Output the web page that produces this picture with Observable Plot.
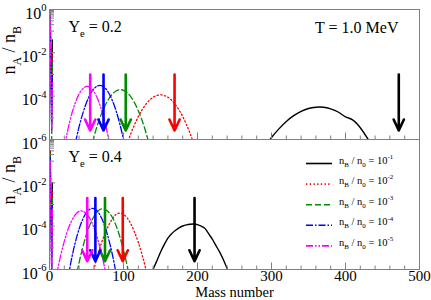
<!DOCTYPE html>
<html><head><meta charset="utf-8">
<script src="https://cdn.jsdelivr.net/npm/d3@7"></script>
<script src="https://cdn.jsdelivr.net/npm/@observablehq/plot@0.6"></script>
<style>
body{margin:0;background:#fff;}
#chart{position:relative;width:431px;height:300px;}
#chart svg{background:transparent;}
#chart text{font-family:"Liberation Serif","Times New Roman",serif !important;}
</style></head><body><div id="chart"></div>
<script>
// ---------- data ----------
const panels = ["0.2", "0.4"];
const panelLabels = ["Y_{e} = 0.2", "Y_{e} = 0.4"];
const tempLabel = "T = 1.0 MeV";
const yTitle = "n_{A} / n_{B}";
const xTitle = "Mass number";
const densityLabels = ["n_{B} / n_{0} = 10^{-1}", "n_{B} / n_{0} = 10^{-2}", "n_{B} / n_{0} = 10^{-3}", "n_{B} / n_{0} = 10^{-4}", "n_{B} / n_{0} = 10^{-5}"];
const seriesColors = ["#000000", "#ff0000", "#008b00", "#0000ff", "#ff00ff"];
const seriesDash = ["none", "1.3,2.4", "6,3", "7,2,1.5,2", "7,2,1.5,2,1.5,2"];

const xTickValues = [0, 100, 200, 300, 400, 500];
const xTickLabels = ["0", "100", "200", "300", "400", "500"];
const xMinorValues = [20,40,60,80,120,140,160,180,220,240,260,280,320,340,360,380,420,440,460,480];
const yTickValues = [1e0, 1e-2, 1e-4, 1e-6];
const yTickLabels = ["10^{0}", "10^{-2}", "10^{-4}", "10^{-6}"];
const yOddDecades = [1e-1, 1e-3, 1e-5];
const yMinorValues = [0.2,0.3,0.4,0.5,0.6,0.7,0.8,0.9];

// Ye = 0.2 (top panel)
const topMass1 = [290,300,310,320,330,340,350,360,370,380,390,400,410,420,430,440];
const topRatio1 = [4.1e-7,1.23e-6,3.1e-6,6.8e-6,1.26e-5,2.0e-5,2.7e-5,3.1e-5,3.1e-5,2.6e-5,1.86e-5,1.12e-5,7.9e-6,3.5e-6,1.1e-6,3.2e-7];
const topMass2 = [100,105,110,115,120,125,130,135,140,145,150,155,160,165,170,175,180,185,190,195,200];
const topRatio2 = [1.9e-7,6.3e-7,1.9e-6,4.9e-6,1.15e-5,2.3e-5,4.1e-5,6.5e-5,8.9e-5,1.07e-4,1.15e-4,1.07e-4,8.9e-5,6.5e-5,4.1e-5,2.3e-5,1.15e-5,4.9e-6,1.9e-6,6.3e-7,1.9e-7];
const topMass3 = [55,60,65,70,75,80,85,90,95,100,105,110,115,120,125,130,135];
const topRatio3 = [3.0e-7,1.3e-6,4.9e-6,1.45e-5,3.6e-5,7.4e-5,1.26e-4,1.74e-4,2.0e-4,1.86e-4,1.45e-4,9.3e-5,4.9e-5,2.1e-5,7.8e-6,2.3e-6,5.5e-7];
const topMass4 = [35,40,45,50,55,60,65,70,75,80,85,90,95,100,105];
const topRatio4 = [6.9e-7,3.9e-6,1.6e-5,5.1e-5,1.23e-4,2.2e-4,3.0e-4,3.1e-4,2.4e-4,1.4e-4,6.2e-5,2.1e-5,5.2e-6,1.0e-6,1.4e-7];
const topMass5 = [20,25,30,35,40,45,50,55,60,65,70,75,80,85];
const topRatio5 = [4.5e-7,3.0e-6,1.5e-5,5.1e-5,1.26e-4,2.2e-4,2.8e-4,2.5e-4,1.6e-4,7.6e-5,2.5e-5,5.9e-6,1.0e-6,1.2e-7];

// Ye = 0.4 (bottom panel)
const botMass1 = [135,140,145,150,155,160,165,170,175,180,185,190,195,200,205,210,215,220,225,230,235,240,245];
const botRatio1 = [4e-7,1e-6,2.5e-6,6.3e-6,1.4e-5,2.8e-5,4.5e-5,6.3e-5,8.3e-5,1.02e-4,1.15e-4,1.23e-4,1.26e-4,1.17e-4,1.0e-4,7.9e-5,4.5e-5,2.5e-5,1.26e-5,6.3e-6,2.8e-6,1.1e-6,4e-7];
const botMass2 = [55,60,65,70,75,80,85,90,95,100,105,110,115,120,125,130,135];
const botRatio2 = [2e-7,1e-6,4.5e-6,1.6e-5,4.5e-5,1.1e-4,2.2e-4,3.5e-4,4.0e-4,3.5e-4,2.4e-4,1.26e-4,5.2e-5,1.8e-5,5e-6,1.1e-6,2e-7];
const botMass3 = [35,40,45,50,55,60,65,70,75,80,85,90,95,100,105,110];
const botRatio3 = [3.0e-7,2.1e-6,1.07e-5,4.3e-5,1.26e-4,2.8e-4,4.8e-4,6.2e-4,6.0e-4,4.4e-4,2.5e-4,1.05e-4,3.3e-5,7.9e-6,1.45e-6,2e-7];
const botMass4 = [25,30,35,40,45,50,55,60,65,70,75,80,85,90,95];
const botRatio4 = [4.2e-7,3.3e-6,1.86e-5,7.4e-5,2.1e-4,4.3e-4,6.2e-4,6.5e-4,4.8e-4,2.5e-4,9.3e-5,2.5e-5,4.8e-6,6.5e-7,6e-8];
const botMass5 = [5,10,15,20,25,30,35,40,45,50,55,60,65,70,75,80];
const botRatio5 = [8e-8,6.8e-7,4.3e-6,2.0e-5,7.1e-5,1.8e-4,3.4e-4,4.8e-4,4.9e-4,3.7e-4,2.1e-4,8.7e-5,2.6e-5,6.0e-6,1e-6,1.2e-7];

// light particles (A = 1..4)
const lightMass = [1, 2, 3, 4];
const topLight = [
  [0.8, 3e-3, 2e-4, 4e-2],
  [0.85, 1e-3, 5e-5, 1e-2],
  [0.9, 5e-4, 1e-6, 3e-3],
  [0.95, 2e-4, 3e-6, 1e-3],
  [1.0, 1e-4, 2e-6, 5e-4]
];
const botLight = [
  [0.3, 1e-3, 1e-5, 1e-2],
  [0.25, 5e-4, 5e-6, 5e-3],
  [0.2, 2e-4, 1e-6, 2e-3],
  [0.15, 1e-4, 5e-7, 1e-3],
  [0.1, 5e-5, 2e-7, 6e-4]
];

// most probable mass number arrows
const arrowTopMass = [472, 169, 103, 73, 55];
const arrowBotMass = [196, 99, 75, 62, 51];
const arrowStart = [1e-3, 2e-3];
const arrowEnd = [2.6e-6, 2.4e-6];

// ---------- tables ----------
const topMass = [topMass1, topMass2, topMass3, topMass4, topMass5];
const topRatio = [topRatio1, topRatio2, topRatio3, topRatio4, topRatio5];
const botMass = [botMass1, botMass2, botMass3, botMass4, botMass5];
const botRatio = [botRatio1, botRatio2, botRatio3, botRatio4, botRatio5];

const curveRows = [], lightRows = [], arrowRows = [];
[[topMass, topRatio, topLight, arrowTopMass], [botMass, botRatio, botLight, arrowBotMass]].forEach(([M, R, L, AR], p) => {
  for (let s = 0; s < 5; s++) {
    M[s].forEach((A, i) => curveRows.push({panel: panels[p], series: s, group: p + "-" + s, A, v: R[s][i]}));
    lightMass.forEach((A, i) => lightRows.push({panel: panels[p], series: s, group: p + "-" + s, A, v: L[s][i]}));
    arrowRows.push({panel: panels[p], series: s, A: AR[s], from: arrowStart[p], to: arrowEnd[p]});
  }
});
const panelRows = panels.map((p, i) => ({panel: p, label: panelLabels[i]}));
const yTickRows = [];
panels.forEach((p, pi) => yTickValues.forEach((v, i) => {
  if (pi === 1 && i === 0) return;
  yTickRows.push({panel: p, v, label: yTickLabels[i]});
}));
const xTickRows = xTickValues.map((v, i) => ({panel: panels[1], v, label: xTickLabels[i]}));

const serif = "Liberation Serif";
const grey = "#808080";
const W = 370, H = 130;
const marks = [];
for (let s = 0; s < 5; s++) {
  marks.push(Plot.line(lightRows.filter(d => d.series === s), {x: "A", y: "v", fy: "panel", z: "group", stroke: seriesColors[s], strokeDasharray: seriesDash[s], strokeWidth: 1.2, clip: true}));
}
for (let s = 0; s < 5; s++) {
  marks.push(Plot.line(curveRows.filter(d => d.series === s), {x: "A", y: "v", fy: "panel", z: "group", curve: "natural", stroke: seriesColors[s], strokeDasharray: seriesDash[s], strokeWidth: s === 0 ? 1.4 : 1.3, clip: true}));
}
for (let s = 0; s < 5; s++) {
  marks.push(Plot.arrow(arrowRows.filter(d => d.series === s), {x: "A", y1: "from", y2: "to", fy: "panel", stroke: seriesColors[s], strokeWidth: 2.6, headLength: 7, headAngle: 50}));
}
marks.push(
  Plot.tickX(xTickValues, {x: d => d, insetTop: H - 6.5, stroke: grey}),
  Plot.tickX(xMinorValues, {x: d => d, insetTop: H - 3.5, stroke: grey}),
  Plot.tickY(yTickValues, {y: d => d, insetRight: W - 6, stroke: grey}),
  Plot.tickY(yOddDecades, {y: d => d, insetRight: W - 5, stroke: grey}),
  Plot.tickY(yMinorValues, {y: d => d, insetRight: W - 5, stroke: grey}),
  Plot.frame({stroke: grey}),
  Plot.text(yTickRows, {y: "v", fy: "panel", text: "label", frameAnchor: "left", textAnchor: "end", lineAnchor: "middle", dx: -3, dy: 4, fontSize: 16, fontFamily: serif}),
  Plot.text(xTickRows, {x: "v", fy: "panel", text: "label", frameAnchor: "bottom", lineAnchor: "middle", dy: 7, fontSize: 15, fontFamily: serif}),
  Plot.text([xTitle], {fy: () => panels[1], frameAnchor: "bottom", lineAnchor: "middle", text: d => d, dy: 23.2, fontSize: 14.5, fontFamily: serif}),
  Plot.text(panelRows, {fy: "panel", text: () => yTitle, frameAnchor: "left", lineAnchor: "middle", rotate: -90, dx: -40, fontSize: 18, fontFamily: serif}),
  Plot.text(panelRows, {fy: "panel", text: "label", frameAnchor: "top-left", textAnchor: "start", lineAnchor: "middle", dx: 19, dy: 17.5, fontSize: 16, fontFamily: serif}),
  Plot.text([tempLabel], {fy: () => panels[0], text: d => d, frameAnchor: "top-right", textAnchor: "end", lineAnchor: "middle", dx: -21, dy: 18, fontSize: 16, fontFamily: serif})
);

const chart = Plot.plot({
  width: 431, height: 300,
  marginLeft: 49, marginRight: 12, marginTop: 9, marginBottom: 31,
  style: {fontFamily: "Liberation Serif", fontSize: "15px", background: "transparent", color: "#000"},
  x: {domain: [0, 500], axis: null},
  y: {type: "log", domain: [1e-6, 1], axis: null},
  fy: {domain: panels, axis: null, padding: 0},
  marks
});
document.getElementById("chart").appendChild(chart);

// ---------- legend (inside bottom panel) ----------
const svg = d3.select(chart);
const lg = svg.append("g").attr("font-size", 10.5).attr("text-anchor", "start").attr("font-family", serif);
densityLabels.forEach((lab, i) => {
  const y = 163.5 + i * 20.6;
  lg.append("line").attr("x1", 306).attr("x2", 332).attr("y1", y).attr("y2", y)
    .attr("stroke", seriesColors[i]).attr("stroke-width", 1.6)
    .attr("stroke-dasharray", seriesDash[i] === "none" ? null : seriesDash[i]);
  lg.append("text").attr("x", 339).attr("y", y).attr("dy", "0.32em").attr("text-anchor", "start").attr("fill", "#000").text(lab);
});

// ---------- sub/superscript rendering ----------
chart.querySelectorAll("text").forEach(el => {
  const s = el.textContent;
  if (!/[_^]\{/.test(s)) return;
  const fs = parseFloat(getComputedStyle(el).fontSize);
  el.textContent = "";
  let shift = 0;
  const re = /([_^])\{([^}]*)\}|([^_^]+)/g;
  let m;
  while ((m = re.exec(s))) {
    const t = document.createElementNS("http://www.w3.org/2000/svg", "tspan");
    let target = 0, size = fs;
    if (m[1] === "_") { target = 0.3 * fs; size = 0.66 * fs; t.textContent = m[2]; }
    else if (m[1] === "^") { target = -0.45 * fs; size = 0.66 * fs; t.textContent = m[2]; }
    else t.textContent = m[3];
    t.setAttribute("dy", target - shift);
    shift = target;
    t.setAttribute("font-size", size);
    el.appendChild(t);
  }
});
</script></body></html>
